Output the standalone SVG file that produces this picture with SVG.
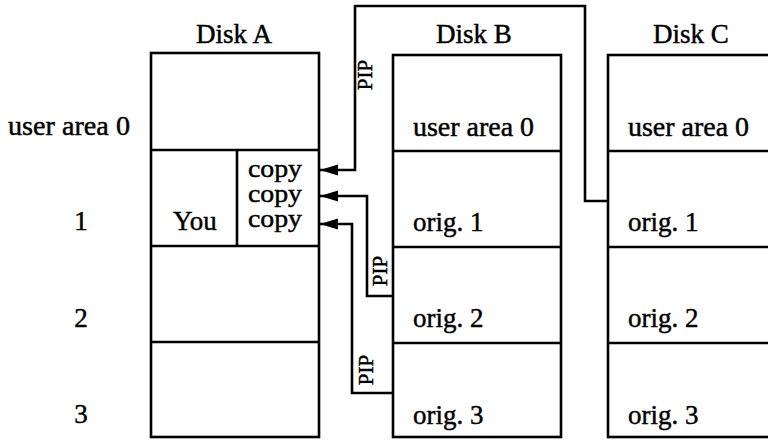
<svg xmlns="http://www.w3.org/2000/svg" width="768" height="441" viewBox="0 0 768 441">
<style>
text{font-family:"Liberation Serif","Times New Roman",serif;font-size:27px;fill:#000;stroke:#000;stroke-width:0.45}
.pip{font-size:21px}
.cp{font-size:25px}
.box{fill:none;stroke:#000;stroke-width:2.6}
.ln{fill:none;stroke:#000;stroke-width:2.6}
.conn{fill:none;stroke:#000;stroke-width:2.6;marker-end:url(#ah)}
.mid{text-anchor:middle}
</style>
<defs>
<marker id="ah" markerUnits="userSpaceOnUse" markerWidth="20" markerHeight="12" refX="18" refY="5.5" orient="auto">
<path d="M0,0 L18,5.5 L0,11 z" fill="#000"/>
</marker>
</defs>
<rect width="768" height="441" fill="#fff"/>
<g id="row-labels">
<text x="8" y="135" textLength="122" lengthAdjust="spacingAndGlyphs">user area 0</text>
<text class="mid" x="81" y="230">1</text>
<text class="mid" x="81" y="327">2</text>
<text class="mid" x="81" y="423">3</text>
</g>
<g id="diskA">
<text class="mid" x="234" y="43">Disk A</text>
<rect class="box" x="151" y="53" width="168" height="384"/>
<line class="ln" x1="151" y1="150" x2="319" y2="150"/>
<line class="ln" x1="151" y1="246" x2="319" y2="246"/>
<line class="ln" x1="151" y1="342" x2="319" y2="342"/>
<line class="ln" x1="237" y1="150" x2="237" y2="246"/>
<text x="173" y="230">You</text>
<text class="cp" x="248" y="177" textLength="54" lengthAdjust="spacingAndGlyphs">copy</text>
<text class="cp" x="248" y="202" textLength="54" lengthAdjust="spacingAndGlyphs">copy</text>
<text class="cp" x="248" y="227" textLength="54" lengthAdjust="spacingAndGlyphs">copy</text>
</g>
<g id="diskB">
<text class="mid" x="474" y="43">Disk B</text>
<rect class="box" x="393" y="55" width="168" height="382"/>
<line class="ln" x1="393" y1="151" x2="561" y2="151"/>
<line class="ln" x1="393" y1="247" x2="561" y2="247"/>
<line class="ln" x1="393" y1="343" x2="561" y2="343"/>
<text x="413" y="136" textLength="121" lengthAdjust="spacingAndGlyphs">user area 0</text>
<text x="413" y="231">orig. 1</text>
<text x="413" y="327">orig. 2</text>
<text x="413" y="424">orig. 3</text>
</g>
<g id="diskC">
<text class="mid" x="691" y="43">Disk C</text>
<rect class="box" x="608" y="55" width="180" height="382"/>
<line class="ln" x1="608" y1="151" x2="768" y2="151"/>
<line class="ln" x1="608" y1="247" x2="768" y2="247"/>
<line class="ln" x1="608" y1="343" x2="768" y2="343"/>
<text x="628" y="136" textLength="121" lengthAdjust="spacingAndGlyphs">user area 0</text>
<text x="628" y="231">orig. 1</text>
<text x="628" y="327">orig. 2</text>
<text x="628" y="424">orig. 3</text>
</g>
<g id="connectors">
<path class="conn" d="M608,201 H585 V6 H355 V170 H320"/>
<path class="conn" d="M393,296 H367 V196 H320"/>
<path class="conn" d="M393,393 H352 V224 H320"/>
<text class="pip mid" transform="translate(372,75) rotate(-90)">PIP</text>
<text class="pip mid" transform="translate(387,271) rotate(-90)">PIP</text>
<text class="pip mid" transform="translate(373,370) rotate(-90)">PIP</text>
</g>
</svg>
